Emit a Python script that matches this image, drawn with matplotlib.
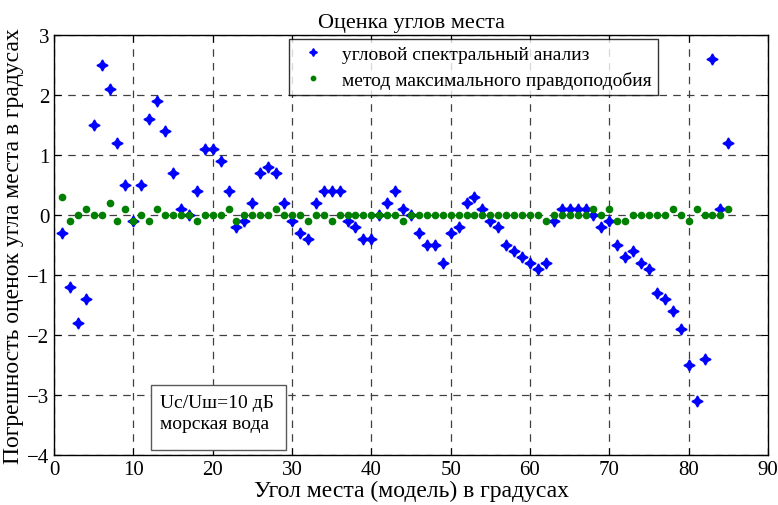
import numpy as np
import matplotlib
matplotlib.use("Agg")
import matplotlib.pyplot as plt
from matplotlib.patches import Rectangle

plt.rcParams["font.family"] = ["Liberation Serif", "DejaVu Serif"]

angles = np.arange(1, 86)

# angular spectral analysis error, degrees
spectral_err = [
    -0.3, -1.2, -1.8, -1.4, 1.5, 2.5, 2.1, 1.2, 0.5, -0.1,
    0.5, 1.6, 1.9, 1.4, 0.7, 0.1, 0.0, 0.4, 1.1, 1.1,
    0.9, 0.4, -0.2, -0.1, 0.2, 0.7, 0.8, 0.7, 0.2, -0.1,
    -0.3, -0.4, 0.2, 0.4, 0.4, 0.4, -0.1, -0.2, -0.4, -0.4,
    0.0, 0.2, 0.4, 0.1, 0.0, -0.3, -0.5, -0.5, -0.8, -0.3,
    -0.2, 0.2, 0.3, 0.1, -0.1, -0.2, -0.5, -0.6, -0.7, -0.8,
    -0.9, -0.8, -0.1, 0.1, 0.1, 0.1, 0.1, 0.0, -0.2, -0.1,
    -0.5, -0.7, -0.6, -0.8, -0.9, -1.3, -1.4, -1.6, -1.9, -2.5,
    -3.1, -2.4, 2.6, 0.1, 1.2,
]

# maximum likelihood error, degrees
ml_err = [
    0.3, -0.1, 0.0, 0.1, 0.0, 0.0, 0.2, -0.1, 0.1, -0.1,
    0.0, -0.1, 0.1, 0.0, 0.0, 0.0, 0.0, -0.1, 0.0, 0.0,
    0.0, 0.1, -0.1, 0.0, 0.0, 0.0, 0.0, 0.1, 0.0, 0.0,
    0.0, -0.1, 0.0, 0.0, -0.1, 0.0, 0.0, 0.0, 0.0, 0.0,
    0.0, 0.0, 0.0, -0.1, 0.0, 0.0, 0.0, 0.0, 0.0, 0.0,
    0.0, 0.0, 0.0, 0.0, 0.0, 0.0, 0.0, 0.0, 0.0, 0.0,
    0.0, -0.1, 0.0, 0.0, 0.0, 0.0, 0.0, 0.1, 0.0, 0.1,
    -0.1, -0.1, 0.0, 0.0, 0.0, 0.0, 0.0, 0.1, 0.0, -0.1,
    0.1, 0.0, 0.0, 0.0, 0.1,
]

fig = plt.figure(figsize=(7.78, 5.06), dpi=100)
ax = fig.add_axes([54 / 778, 50 / 506, 714 / 778, 420 / 506])

ax.plot(angles, spectral_err, linestyle="none", marker=(4, 1, 0), ms=8,
        color="blue", mec="blue", label="угловой спектральный анализ", zorder=3)
ax.plot(angles, ml_err, linestyle="none", marker="o", ms=4.5,
        color="green", mec="green", label="метод максимального правдоподобия",
        zorder=4)

ax.set_xlim(0, 90)
ax.set_ylim(-4, 3)
ax.set_xticks(np.arange(0, 91, 10))
ax.set_yticks(np.arange(-4, 4, 1))
ax.grid(True, color="0.25", linestyle=(0, (6, 5)), linewidth=0.9)
ax.tick_params(direction="in", top=True, right=True, labelsize=15, length=5)
for sp in ax.spines.values():
    sp.set_linewidth(1.0)

ax.set_title("Оценка углов места", fontsize=16, pad=6)
ax.set_xlabel("Угол места (модель) в градусах", fontsize=17, labelpad=1)
ax.set_ylabel("Погрешность оценок угла места в градусах", fontsize=17,
              labelpad=2)

leg = ax.legend(loc="upper right", bbox_to_anchor=(0.846, 0.99), fontsize=14,
                frameon=True, fancybox=False, edgecolor="black",
                borderaxespad=0, handletextpad=0.6, borderpad=0.32,
                labelspacing=0.4, handlelength=1.8, markerscale=0.7)
leg.get_frame().set_linewidth(1.0)

# annotation box
ax.add_patch(Rectangle((12.2, -3.92), 17.1, 1.09, fill=True, fc="white",
                       ec="0.35", lw=1.0, zorder=5))
ax.text(13.4, -3.12, "Uc/Uш=10 дБ", fontsize=14, va="center", ha="left",
        zorder=6)
ax.text(13.4, -3.47, "морская вода", fontsize=14, va="center", ha="left",
        zorder=6)

fig.savefig("out.png", dpi=100)
